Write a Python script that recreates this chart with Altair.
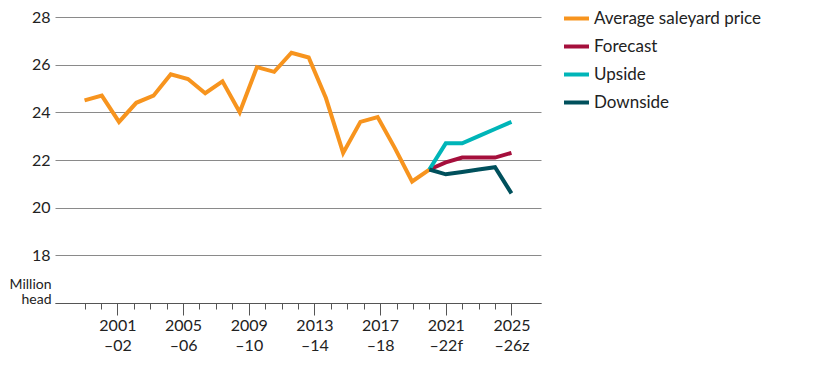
import altair as alt
import pandas as pd

# Historical average saleyard price series (x positions)
hist_x = [1999.0, 2000.05, 2001.1, 2002.15, 2003.2, 2004.25, 2005.3, 2006.35, 2007.4,
          2008.45, 2009.5, 2010.55, 2011.6, 2012.65, 2013.7, 2014.75, 2015.8, 2016.85,
          2017.9, 2018.95, 2020.0]
hist_y = [24.5, 24.7, 23.6, 24.4, 24.7, 25.6, 25.4, 24.8, 25.3, 24.0, 25.9, 25.7, 26.5,
          26.3, 24.6, 22.3, 23.6, 23.8, 22.5, 21.1, 21.6]

proj_x = [2020, 2021, 2022, 2023, 2024, 2025]
forecast_y = [21.6, 21.9, 22.1, 22.1, 22.1, 22.3]
upside_y = [21.6, 22.7, 22.7, 23.0, 23.3, 23.6]
downside_y = [21.6, 21.4, 21.5, 21.6, 21.7, 20.6]

series_names = ["Average saleyard price", "Forecast", "Upside", "Downside"]
series_colors = ["#F7941E", "#A50F3C", "#00B5B8", "#00505C"]

tick_years = list(range(1999, 2026))
y_ticks = [16, 18, 20, 22, 24, 26, 28]
y_unit = ["Million", "head"]

rows = []
for x, y in zip(hist_x, hist_y):
    rows.append({"x": x, "y": y, "series": series_names[0]})
for name, ys in zip(series_names[1:], [forecast_y, upside_y, downside_y]):
    for x, y in zip(proj_x, ys):
        rows.append({"x": x, "y": y, "series": name})
df = pd.DataFrame(rows)

FONT = "Lato"
PLOT_H = 286

x_label_expr = (
    "datum.value % 4 == 1 ? "
    "[format(datum.value, 'd'), '\u2013' + format((datum.value + 1) % 100, '02d')"
    " + (datum.value == 2021 ? 'f' : datum.value == 2025 ? 'z' : '')] : ''"
)

chart = (
    alt.Chart(df)
    .mark_line(strokeWidth=4, strokeJoin="miter")
    .encode(
        x=alt.X(
            "x:Q",
            scale=alt.Scale(domain=[1997.2, 2026.8], nice=False, zero=False),
            axis=alt.Axis(
                title=None,
                values=tick_years,
                grid=False,
                domainColor="#555555",
                domainWidth=1,
                tickColor="#555555",
                tickWidth=1,
                tickSize={"condition": {"test": "datum.value % 4 == 1", "value": 12}, "value": 6},
                labelExpr=x_label_expr,
                labelFont=FONT,
                labelFontSize=16,
                labelColor="#222222",
                labelLineHeight=20,
                labelPadding=2,
                labelOverlap=False,
                labelFlush=False,
            ),
        ),
        y=alt.Y(
            "y:Q",
            scale=alt.Scale(domain=[16, 28], nice=False, zero=False),
            axis=alt.Axis(
                title=y_unit,
                titleAngle=0,
                titleAlign="right",
                titleBaseline="top",
                titleX=-4,
                titleY=PLOT_H - 26,
                titleFont=FONT,
                titleFontSize=14,
                titleFontWeight="normal",
                titleColor="#222222",
                titleLineHeight=15,
                values=y_ticks,
                grid=True,
                gridColor="#8a8a8a",
                gridWidth=1,
                domain=False,
                ticks=False,
                labelExpr="datum.value == 16 ? '' : datum.label",
                labelBaseline="middle",
                labelFont=FONT,
                labelFontSize=16,
                labelColor="#222222",
                labelPadding=5,
            ),
        ),
        color=alt.Color(
            "series:N",
            scale=alt.Scale(domain=series_names, range=series_colors),
            sort=series_names,
            legend=alt.Legend(
                title=None,
                orient="none",
                legendX=507,
                legendY=-13,
                symbolType="stroke",
                symbolStrokeWidth=4,
                symbolSize=625,
                labelFont=FONT,
                labelFontSize=17,
                labelColor="#222222",
                labelOffset=3,
                labelLimit=0,
                rowPadding=5,
            ),
        ),
        detail="series:N",
    )
    .properties(
        width=486,
        height=PLOT_H,
        autosize=alt.AutoSizeParams(type="none"),
        padding={"left": 47, "top": 9, "right": 260, "bottom": 55},
    )
    .configure_view(stroke=None)
)

chart.save("out.html", embed_options={"renderer": "svg", "actions": False})
